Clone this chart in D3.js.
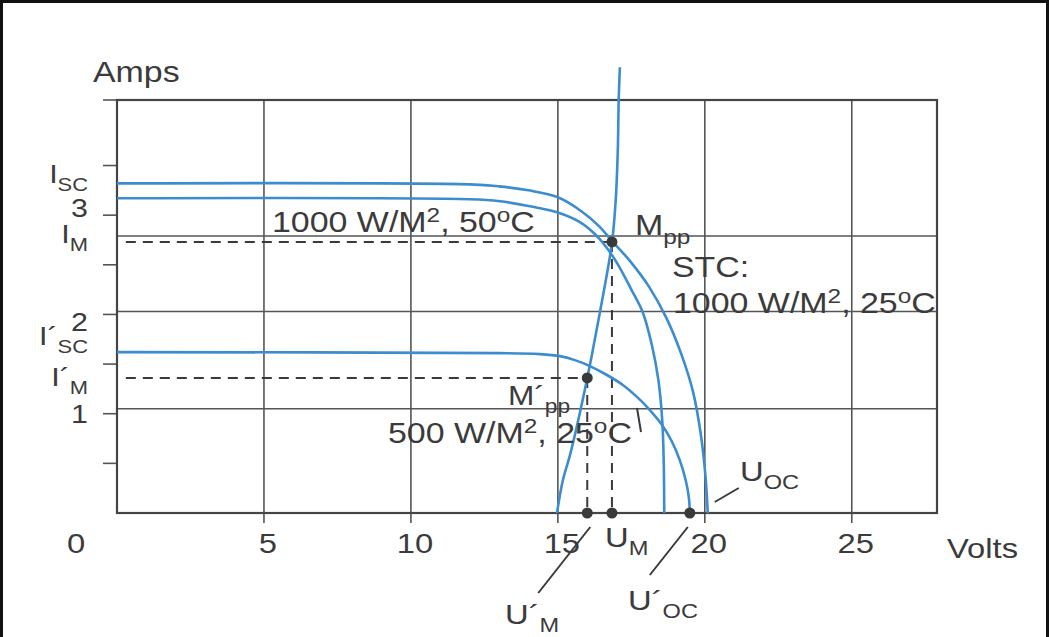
<!DOCTYPE html>
<html>
<head>
<meta charset="utf-8">
<script src="https://cdn.jsdelivr.net/npm/d3@7"></script>
<style>
  body { margin: 0; background: #fff; }
  svg text { font-family: "Liberation Sans", Arial, Helvetica, sans-serif; fill: #3b3b3b; }
</style>
</head>
<body>
<div id="chart"></div>
<script>
// I-V curves: [volts, amps]
const stc_25 = [[0,3.32],[12,3.31],[13,3.29],[14,3.25],[15,3.18],[15.8,3.04],[16.4,2.89],[16.84,2.74],[17.45,2.54],[18.1,2.28],[18.7,1.96],[19.2,1.60],[19.6,1.22],[19.86,0.80],[20.02,0.38],[20.1,0]];
const stc_50 = [[0,3.17],[12.0,3.16],[13.03,3.14],[14.05,3.09],[15.07,3.02],[15.75,2.93],[16.26,2.81],[16.67,2.67],[17.07,2.49],[17.5,2.25],[17.89,2.02],[18.2,1.69],[18.42,1.34],[18.55,0.94],[18.6,0.54],[18.62,0]];
const half_25 = [[0,1.62],[13.03,1.61],[14.39,1.60],[15.07,1.58],[15.58,1.54],[16.09,1.48],[16.67,1.39],[17.21,1.29],[17.69,1.17],[18.03,1.07],[18.54,0.89],[18.88,0.72],[19.15,0.53],[19.35,0.33],[19.46,0.15],[19.49,0]];
const mpp_line = [[14.97,0],[15.17,0.33],[15.41,0.58],[15.75,1.01],[16.09,1.49],[16.43,2.02],[16.84,2.72],[16.97,3.16],[17.04,3.66],[17.07,4.16],[17.11,4.49]];

const mpp = [16.84, 2.73];
const mpp_half = [16.0, 1.36];
const u_oc_half = 19.49;

const x_ticks = [5, 10, 15, 20, 25];
const y_ticks = [0.5, 1, 1.5, 2, 2.5, 3, 3.5];
const y_labels = ['1', '2', '3'];
const h_grid = [1.05, 2.03, 2.79];

const width = 1049, height = 637;
const sx = 1.17; // the scanned lettering is a bit wide

const svg = d3.select('#chart').append('svg')
  .attr('width', width)
  .attr('height', height)
  .attr('viewBox', [0, 0, width, height]);

const x = d3.scaleLinear().domain([0, 27.9]).range([117, 937]);
const y = d3.scaleLinear().domain([0, 4.16]).range([513, 100]);

// outer border of the scan
svg.append('rect')
  .attr('x', 1.5).attr('y', 1.5)
  .attr('width', width - 3).attr('height', height + 20)
  .attr('fill', 'none').attr('stroke', '#111').attr('stroke-width', 3);

// grid and frame ////////////////////////////////////////////////////////
const grid = svg.append('g').attr('stroke', '#555').attr('stroke-width', 1.6);

grid.selectAll('line.v')
  .data(x_ticks)
  .join('line')
  .attr('class', 'v')
  .attr('x1', d => x(d)).attr('x2', d => x(d))
  .attr('y1', y(4.16)).attr('y2', y(0) + 10);

grid.selectAll('line.h')
  .data(h_grid)
  .join('line')
  .attr('class', 'h')
  .attr('x1', x(0)).attr('x2', x(27.9))
  .attr('y1', d => y(d)).attr('y2', d => y(d));

grid.selectAll('line.t')
  .data(y_ticks.concat([4.16]))
  .join('line')
  .attr('class', 't')
  .attr('x1', x(0) - 14).attr('x2', x(0))
  .attr('y1', d => y(d)).attr('y2', d => y(d));

svg.append('rect')
  .attr('x', x(0)).attr('y', y(4.16))
  .attr('width', x(27.9) - x(0)).attr('height', y(0) - y(4.16))
  .attr('fill', 'none').attr('stroke', '#444').attr('stroke-width', 2.2);

// dashed guides //////////////////////////////////////////////////////////
const dashed = svg.append('g')
  .attr('stroke', '#3a3a3a').attr('stroke-width', 2)
  .attr('stroke-dasharray', '10,7').attr('fill', 'none');

[mpp, mpp_half].forEach(p => {
  dashed.append('line')
    .attr('x1', x(0.3)).attr('x2', x(p[0]))
    .attr('y1', y(p[1])).attr('y2', y(p[1]));
  dashed.append('line')
    .attr('x1', x(p[0])).attr('x2', x(p[0]))
    .attr('y1', y(p[1])).attr('y2', y(0));
});

// curves /////////////////////////////////////////////////////////////////
const line = d3.line()
  .x(d => x(d[0]))
  .y(d => y(d[1]))
  .curve(d3.curveCatmullRom.alpha(0.5));

svg.append('g')
  .attr('fill', 'none')
  .attr('stroke', '#3b8dcf')
  .attr('stroke-width', 2.6)
  .selectAll('path')
  .data([stc_25, stc_50, half_25, mpp_line])
  .join('path')
  .attr('d', d => line(d));

// dots ///////////////////////////////////////////////////////////////////
svg.append('g')
  .attr('fill', '#3a3a3a')
  .selectAll('circle')
  .data([mpp, mpp_half, [mpp[0], 0], [mpp_half[0], 0], [u_oc_half, 0]])
  .join('circle')
  .attr('cx', d => x(d[0]))
  .attr('cy', d => y(d[1]))
  .attr('r', 5.5);

// leader lines ///////////////////////////////////////////////////////////
const leaders = svg.append('g').attr('stroke', '#3a3a3a').attr('stroke-width', 2);
leaders.append('line')   // U_OC
  .attr('x1', x(20.1) + 7).attr('y1', y(0) - 11)
  .attr('x2', x(20.1) + 31).attr('y2', y(0) - 25);
leaders.append('line')   // U'_M
  .attr('x1', x(mpp_half[0]) + 3).attr('y1', y(0) + 14)
  .attr('x2', x(mpp_half[0]) - 49).attr('y2', y(0) + 80);
leaders.append('line')   // U'_OC
  .attr('x1', x(u_oc_half) - 2).attr('y1', y(0) + 14)
  .attr('x2', x(u_oc_half) - 40).attr('y2', y(0) + 62);
leaders.append('line')   // 500 W/M2 label to its curve
  .attr('x1', 637).attr('y1', 408)
  .attr('x2', 641).attr('y2', 432);

// text ///////////////////////////////////////////////////////////////////
function rich(px, py, parts, size, anchor) {
  const t = svg.append('text')
    .attr('transform', `translate(${px},${py}) scale(${sx},1)`)
    .attr('font-size', size)
    .attr('text-anchor', anchor || 'start');
  let shift = 0;
  parts.forEach(p => {
    const [s, k] = Array.isArray(p) ? p : [p, 'n'];
    const target = k === 'sub' ? size * 0.3 : k === 'sup' ? -size * 0.36 : 0;
    t.append('tspan')
      .attr('dy', target - shift)
      .attr('font-size', k === 'n' ? size : size * 0.72)
      .text(s);
    shift = target;
  });
  return t;
}

// axis titles and tick labels
rich(93, 82, ['Amps'], 29);
rich(947, 558, ['Volts'], 28);
rich(x(0) - 41, 553, ['0'], 28, 'middle');
x_ticks.forEach(v => rich(x(v) + 4, 553, [String(v)], 28, 'middle'));

const left_dy = [9, 17, 2];
y_labels.forEach((s, i) => rich(88, y(+s) + left_dy[i], [s], 26, 'end'));

rich(88, y(3.32) + 0, ['I', ['SC', 'sub']], 26, 'end');
rich(88, y(mpp[1]) + 1, ['I', ['M', 'sub']], 26, 'end');
rich(88, y(1.62) - 7, ['I´', ['SC', 'sub']], 26, 'end');
rich(88, y(mpp_half[1]) + 8, ['I´', ['M', 'sub']], 26, 'end');

// curve annotations
rich(272, 232, ['1000 W/M', ['2', 'sup'], ', 50', ['o', 'sup'], 'C'], 29);
rich(635, 235, ['M', ['pp', 'sub']], 29);
rich(672, 277, ['STC:'], 29);
rich(673, 313, ['1000 W/M', ['2', 'sup'], ', 25', ['o', 'sup'], 'C'], 29);
rich(508, 405, ['M´', ['pp', 'sub']], 27);
rich(388, 443, ['500 W/M', ['2', 'sup'], ', 25', ['o', 'sup'], 'C'], 29);

rich(740, 481, ['U', ['OC', 'sub']], 28);
rich(605, 547, ['U', ['M', 'sub']], 28);
rich(628, 610, ['U´', ['OC', 'sub']], 28);
rich(505, 624, ['U´', ['M', 'sub']], 28);
</script>
</body>
</html>
